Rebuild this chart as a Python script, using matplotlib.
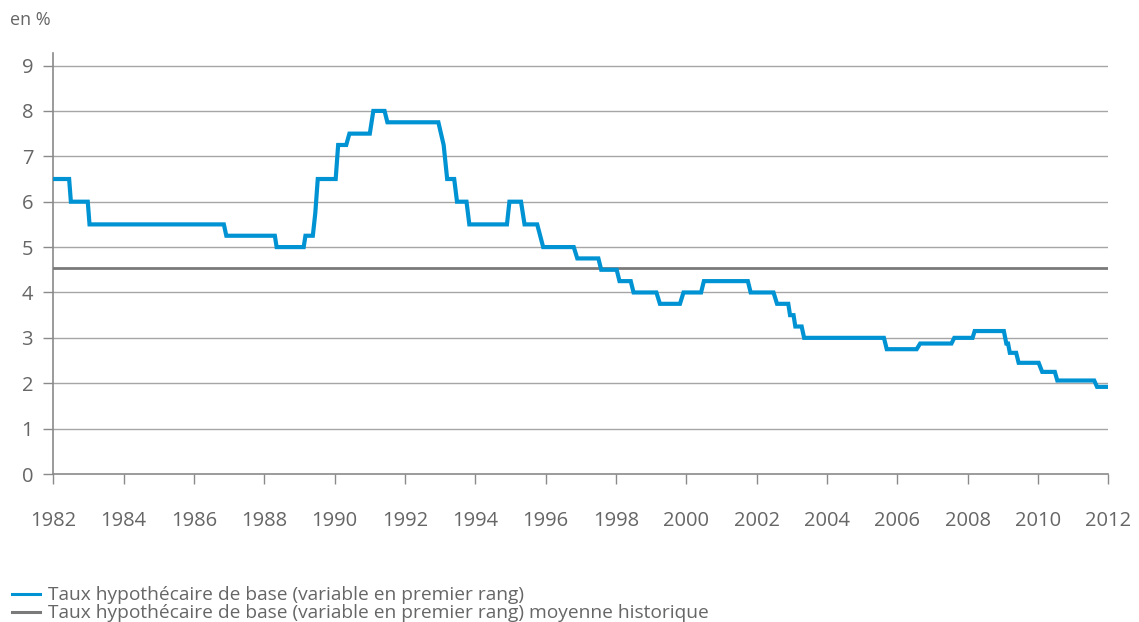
import numpy as np
import matplotlib
matplotlib.use("Agg")
import matplotlib.pyplot as plt
from matplotlib.lines import Line2D

plt.rcParams['font.family'] = ['Open Sans', 'DejaVu Sans']

# Taux hypothécaire de base (année décimale, %)
years = [1982.0, 1982.45, 1982.5, 1982.98, 1983.03, 1986.85, 1986.92, 1988.3, 1988.35,
         1989.12, 1989.17, 1989.38, 1989.45, 1989.52, 1990.03, 1990.1, 1990.33, 1990.42,
         1991.0, 1991.1, 1991.42, 1991.5, 1992.95, 1993.1, 1993.2, 1993.4, 1993.48,
         1993.75, 1993.83, 1994.9, 1994.97, 1995.3, 1995.4, 1995.76, 1995.93, 1996.8,
         1996.9, 1997.5, 1997.58, 1998.02, 1998.1, 1998.42, 1998.5, 1999.15, 1999.25,
         1999.82, 1999.92, 2000.42, 2000.5, 2001.75, 2001.83, 2002.48, 2002.58, 2002.9,
         2002.95, 2003.05, 2003.1, 2003.28, 2003.35, 2005.62, 2005.7, 2006.55, 2006.65,
         2007.54, 2007.62, 2008.14, 2008.2, 2009.03, 2009.1, 2009.15, 2009.2, 2009.38,
         2009.45, 2010.02, 2010.12, 2010.48, 2010.55, 2011.6, 2011.68, 2011.98]
rates = [6.5, 6.5, 6.0, 6.0, 5.5, 5.5, 5.25, 5.25, 5.0,
         5.0, 5.25, 5.25, 5.75, 6.5, 6.5, 7.25, 7.25, 7.5,
         7.5, 8.0, 8.0, 7.75, 7.75, 7.25, 6.5, 6.5, 6.0,
         6.0, 5.5, 5.5, 6.0, 6.0, 5.5, 5.5, 5.0, 5.0,
         4.75, 4.75, 4.5, 4.5, 4.25, 4.25, 4.0, 4.0, 3.75,
         3.75, 4.0, 4.0, 4.25, 4.25, 4.0, 4.0, 3.75, 3.75,
         3.5, 3.5, 3.25, 3.25, 3.0, 3.0, 2.75, 2.75, 2.875,
         2.875, 3.0, 3.0, 3.15, 3.15, 2.875, 2.875, 2.67, 2.67,
         2.45, 2.45, 2.25, 2.25, 2.06, 2.06, 1.92, 1.92]
mean_rate = 4.53

xticks = list(range(1982, 2013, 2))
yticks = list(range(0, 10))

blue = '#0093d3'
grey = '#7a7a7a'
text_c = '#666666'

fig = plt.figure(figsize=(11.39, 6.22), dpi=100)
ax = fig.add_axes([53.3 / 1139, 1 - 474 / 622, (1108.3 - 53.3) / 1139, (474 - 53.3) / 622])

ax.plot(years, rates, color=blue, lw=3.0, solid_joinstyle='miter', zorder=4)
ax.axhline(mean_rate, color=grey, lw=2.0, zorder=3)

for v in yticks[1:]:
    ax.axhline(v, color='#a6a6a6', lw=1.0, zorder=1)

ax.set_xlim(1982, 2012)
ax.set_ylim(0, 9.27)
ax.set_xticks(xticks)
ax.set_yticks(yticks)
for s in ['top', 'right']:
    ax.spines[s].set_visible(False)
for s in ['left', 'bottom']:
    ax.spines[s].set_color('#8a8a8a')
    ax.spines[s].set_linewidth(1.2)
ax.tick_params(axis='x', length=7.5, width=1.0, color='#8a8a8a', pad=19,
               labelsize=14.5, labelcolor=text_c)
ax.tick_params(axis='y', length=7.5, width=1.0, color='#8a8a8a', pad=7,
               labelsize=14.5, labelcolor=text_c)

fig.text(10 / 1139, 1 - 20 / 622, 'en %', fontsize=13, color=text_c, va='center', ha='left')

handles = [Line2D([], [], color=blue, lw=2.2),
           Line2D([], [], color=grey, lw=2.2)]
labels = ['Taux hypothécaire de base (variable en premier rang)',
          'Taux hypothécaire de base (variable en premier rang) moyenne historique']
leg = fig.legend(handles, labels, loc='lower left', bbox_to_anchor=(0.0, -0.019),
                 frameon=False, fontsize=13.8, handlelength=1.47, handletextpad=0.45,
                 labelspacing=0.0, borderaxespad=0.2)
for t in leg.get_texts():
    t.set_color(text_c)

fig.savefig('out.png', dpi=100)
